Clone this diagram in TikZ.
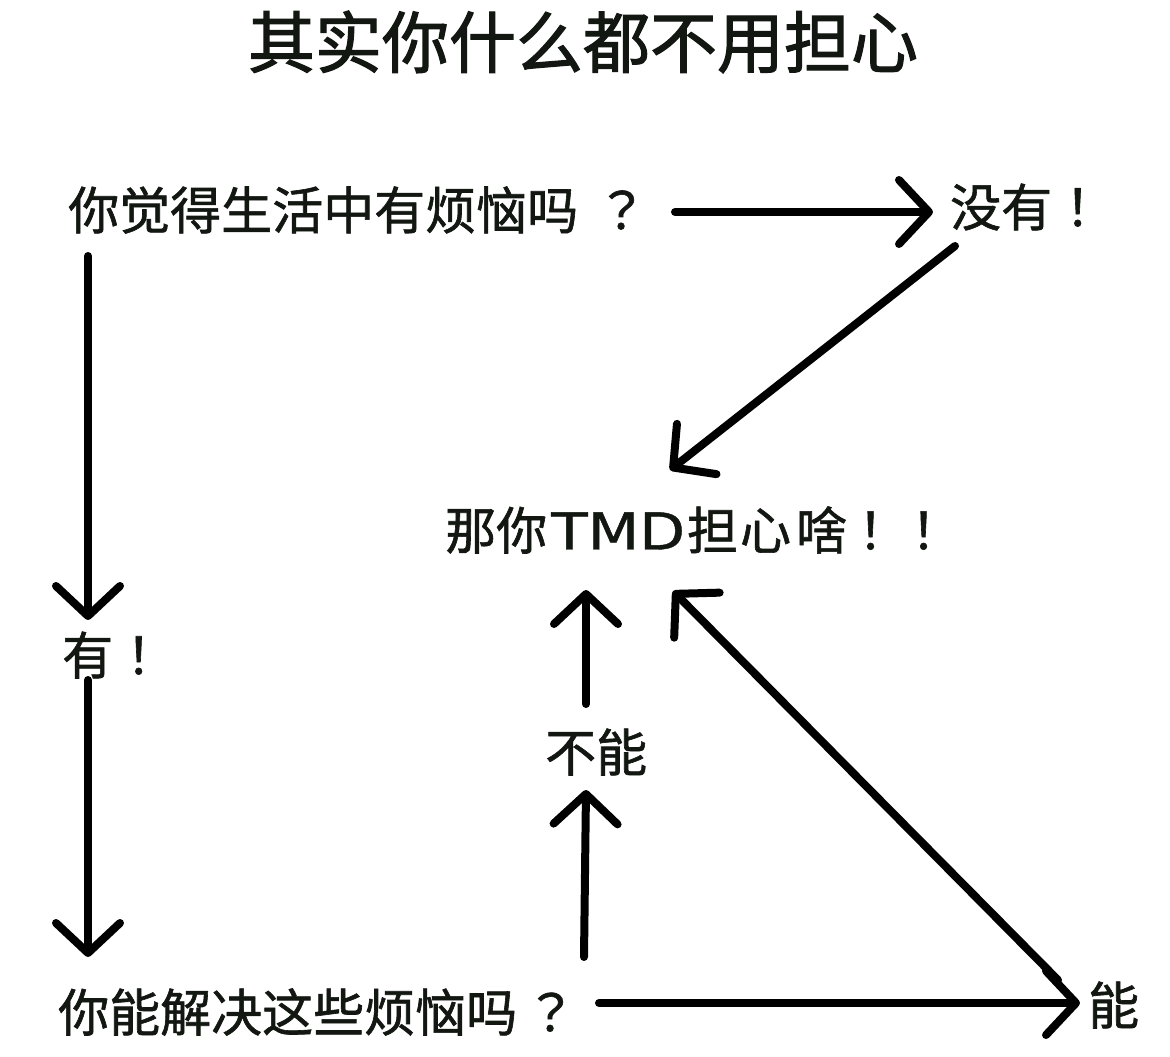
\documentclass[tikz,border=0pt]{standalone}
\usepackage{fontspec}
\usepackage{graphicx}
\setmainfont[FakeBold=1.2]{Noto Sans CJK SC}
\newfontfamily\titlefont[FakeBold=1.7]{Noto Sans CJK SC}
\newfontfamily\punct[FakeBold=1.2]{Noto Sans CJK TC}
\newfontfamily\latinfont[FakeBold=0.8]{DejaVu Sans}
\usetikzlibrary{arrows.meta}
\definecolor{ink}{rgb}{0.07,0.09,0.07}
\newcommand{\myqm}{{\punct ？}}
\newcommand{\myexc}{{\punct ！}}
\begin{document}
\begin{tikzpicture}[x=1pt,y=-1pt,
  lbl/.style={inner sep=0pt,anchor=west,text=ink,font=\fontsize{51}{51}\selectfont},
  arr/.style={draw=black,line width=8pt,line cap=round,line join=round,
    -{Straight Barb[length=30pt,width=64pt,line width=8pt,round]}}]
\useasboundingbox[fill=white] (0,0) rectangle (1170,1057);
\node[inner sep=0pt,text=ink,font=\titlefont\fontsize{67}{67}\selectfont] (title) at (583,42) {其实你什么都不用担心};
\node[lbl] (q1) at (68,210) {你觉得生活中有烦恼吗\hspace{18pt}\myqm};
\node[lbl] (no) at (950,207) {没有\myexc};
\node[lbl] (tmd) at (445,530) {那你\hspace{4pt}{\latinfont\scalebox{1.17}[1]{TMD}}\hspace{2pt}担\hspace{2pt}心\hspace{5pt}啥\hspace{-2pt}\myexc\hspace{2pt}\myexc};
\node[lbl] (yes) at (62,655) {有\myexc};
\node[lbl] (cannot) at (545,752) {不能};
\node[lbl] (q2) at (58,1012) {你能解决这些烦恼吗\hspace{8pt}\myqm};
\node[lbl] (can) at (1088,1005) {能};
% connector end points
\coordinate (q1r) at (675,212);
\coordinate (nol) at (933,212);
\coordinate (nob) at (955,246);
\coordinate (tmdt) at (670,470);
\coordinate (q1b) at (88,256);
\coordinate (yest) at (88,620);
\coordinate (yesb) at (88,680);
\coordinate (q2t) at (88,957);
\coordinate (tmdb1) at (586,590);
\coordinate (cant) at (586,704);
\coordinate (canb) at (586,790);
\coordinate (q2up) at (584,957);
\coordinate (q2r) at (599,1003);
\coordinate (canl) at (1080,1003);
\coordinate (cantl) at (1058,980);
\coordinate (tmdb2) at (673,591);
\draw[arr] (q1r) -- (nol);
\draw[arr] (nob) -- (tmdt);
\draw[arr] (q1b) -- (yest);
\draw[arr] (yesb) -- (q2t);
\draw[arr] (cant) -- (tmdb1);
\draw[arr] (q2up) -- (canb);
\draw[arr] (q2r) -- (canl);
\draw[arr] (cantl) -- (tmdb2);
\end{tikzpicture}
\end{document}
